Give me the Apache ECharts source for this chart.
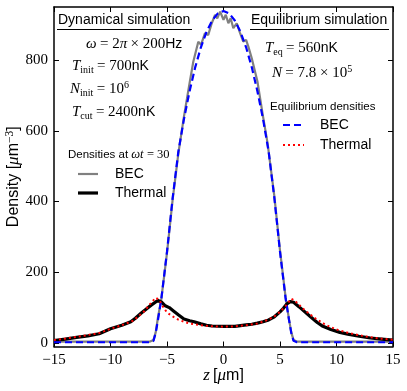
<!DOCTYPE html>
<html><head><meta charset="utf-8">
<script src="https://cdn.jsdelivr.net/npm/echarts@6/dist/echarts.min.js"></script>
<style>html,body{margin:0;padding:0;background:#fff}#c{width:407px;height:391px}</style>
</head><body><div id="c"></div>
<script>
// ---- data ----
const xTicks = [-15, -10, -5, 0, 5, 10, 15];
const yTicks = [0, 200, 400, 600, 800];

// Dynamical simulation, BEC density (grey)
const zDynBEC = [-15, -10, -6.5, -6.2, -6.0, -5.8, -5.5, -5.0, -4.5, -4.0, -3.5, -3.0, -2.67, -2.23, -1.99, -1.64, -1.35, -1.04, -0.75, -0.55, -0.3, 0.0, 0.2, 0.43, 0.63, 0.87, 1.17, 1.46, 1.75, 2.0, 2.2, 2.5, 3.0, 3.5, 3.9, 4.1, 4.5, 5.0, 5.5, 5.8, 6.0, 6.2, 6.5, 10, 15];
const dynBEC  = [4, 4, 4, 8, 30, 72, 125, 255, 405, 535, 640, 735, 796, 852, 843, 876, 871, 904, 928, 918, 937, 914, 928, 904, 918, 890, 904, 877, 852, 857, 838, 805, 740, 640, 565, 515, 415, 262, 128, 66, 30, 8, 4, 4, 4];

// Dynamical simulation, thermal density (black)
const zDynTh = [-15, -14, -13, -12, -11, -10.5, -10, -9, -8.2, -7.8, -7.3, -6.8, -6.4, -6.0, -5.8, -5.5, -5.2, -4.8, -4.4, -4.0, -3.5, -3.0, -2.6, -2.0, -1.5, -1.0, 0, 1.0, 1.5, 2.0, 2.5, 3.0, 3.5, 4.0, 4.5, 5.0, 5.3, 5.6, 5.9, 6.2, 6.7, 7.2, 7.7, 8.3, 8.8, 9.5, 10.3, 11, 12, 13, 14, 15];
const dynTh  = [7, 11, 16, 20, 26, 33, 40, 50, 60, 70, 84, 97, 107, 116, 120, 116, 106, 100, 90, 80, 68, 63, 60, 54, 50, 48, 47, 47, 49, 51, 53, 56, 60, 65, 74, 88, 98, 110, 117, 115, 102, 88, 74, 58, 47, 38, 30, 25, 19, 14, 11, 8];

// Equilibrium simulation, BEC density (blue dashed)
const zEqBEC = [-15, -10, -6.5, -6.2, -6.0, -5.8, -5.5, -5.0, -4.5, -4.0, -3.5, -3.0, -2.5, -2.0, -1.5, -1.0, -0.5, 0, 0.5, 1.0, 1.5, 2.0, 2.5, 3.0, 3.5, 4.0, 4.5, 5.0, 5.5, 5.8, 6.0, 6.2, 6.5, 10, 15];
const eqBEC  = [2, 2, 2, 6, 28, 65, 125, 258, 410, 540, 633, 712, 780, 836, 880, 912, 932, 939, 932, 912, 880, 836, 780, 712, 633, 540, 410, 258, 125, 65, 28, 6, 2, 2, 2];

// Equilibrium simulation, thermal density (red dotted)
const zEqTh = [-15, -13, -11, -10, -9, -8, -7, -6.5, -6.0, -5.7, -5.3, -5.0, -4.5, -4.0, -3.5, -3.0, -2.0, -1.0, 0, 1.0, 2.0, 3.0, 4.0, 4.5, 5.0, 5.5, 6.0, 6.3, 7.0, 8.0, 9.0, 10, 11, 12, 13, 14, 15];
const eqTh  = [8, 17, 28, 40, 50, 63, 90, 110, 128, 122, 100, 86, 75, 66, 60, 55, 50, 47, 46, 47, 50, 55, 66, 75, 88, 105, 125, 120, 98, 72, 52, 38, 29, 22, 16, 12, 9];

function pairs(xs, ys) { return xs.map((x, i) => [x, ys[i]]); }

const SERIF = 'Liberation Serif';
const SANS = 'Liberation Sans';
const rich = {
  m:   { fontFamily: SERIF, fontStyle: 'italic', fontSize: 15, lineHeight: 18, color: '#000' },
  r:   { fontFamily: SERIF, fontSize: 15, lineHeight: 18, color: '#000' },
  s:   { fontFamily: SANS, fontSize: 14, lineHeight: 18, color: '#000' },
  sub: { fontFamily: SERIF, fontSize: 10, lineHeight: 18, verticalAlign: 'bottom', padding: [6, 0, 0, 0], color: '#000' },
  sup: { fontFamily: SERIF, fontSize: 10, lineHeight: 18, verticalAlign: 'top', padding: [0, 0, 6, 0], color: '#000' },
  sm:  { fontFamily: SANS, fontSize: 11.5, lineHeight: 16, color: '#000' },
  smm: { fontFamily: SERIF, fontStyle: 'italic', fontSize: 12.5, lineHeight: 16, color: '#000' },
  smr: { fontFamily: SERIF, fontSize: 12.5, lineHeight: 16, color: '#000' },
  Lm:  { fontFamily: SERIF, fontStyle: 'italic', fontSize: 17, lineHeight: 20, color: '#000' },
  Ls:  { fontFamily: SANS, fontSize: 16, lineHeight: 20, color: '#000' },
  Lsup:{ fontFamily: SERIF, fontSize: 11.5, lineHeight: 20, verticalAlign: 'top', padding: [0, 0, 6, 0], color: '#000' }
};

function txt(x, y, text, align) {
  return { type: 'text', x: x, y: y, z: 100,
    style: { text: text, rich: rich, align: align || 'left', verticalAlign: 'middle' } };
}
function seg(x1, y1, x2, y2, color, w, dash) {
  return { type: 'line', z: 100, shape: { x1, y1, x2, y2 },
    style: { stroke: color, lineWidth: w, lineDash: dash || null } };
}

const chart = echarts.init(document.getElementById('c'), null, { renderer: 'canvas' });

const axisCommon = {
  type: 'value', min: -15, max: 15, interval: 5,
  axisLine: { show: true, onZero: false, lineStyle: { color: '#000', width: 1.5 } },
  axisTick: { show: true, inside: true, length: 5, lineStyle: { color: '#000', width: 1 } },
  splitLine: { show: false }
};

chart.setOption({
  animation: false,
  backgroundColor: '#fff',
  grid: { left: 54, right: 14, top: 7, bottom: 44.5, containLabel: false, outerBoundsMode: 'none' },
  xAxis: [
    Object.assign({}, axisCommon, {
      position: 'bottom',
      axisLabel: { show: true, margin: 6, fontFamily: SERIF, fontSize: 15, color: '#000',
        formatter: v => (v < 0 ? '\u2212' + Math.abs(v) : String(v)) },
      name: '{Lm|z} {Ls|[}{Lm|μ}{Ls|m]}', nameLocation: 'middle', nameGap: 19, nameMoveOverlap: false,
      nameTextStyle: { rich: rich }
    }),
    Object.assign({}, axisCommon, { position: 'top', axisLabel: { show: false } })
  ],
  yAxis: [
    {
      type: 'value', min: -10, max: 950, interval: 200,
      axisLine: { show: true, onZero: false, lineStyle: { color: '#000', width: 1.5 } },
      axisTick: { show: true, inside: true, length: 5, lineStyle: { color: '#000', width: 1 },
        customValues: yTicks },
      axisLabel: { show: true, margin: 6, fontFamily: SERIF, fontSize: 15, color: '#000',
        customValues: yTicks },
      splitLine: { show: false },
      name: '{Ls|Density [}{Lm|μ}{Ls|m}{Lsup|−3}{Ls|]}', nameLocation: 'middle', nameGap: 30, nameRotate: 90,
      nameMoveOverlap: false,
      nameTextStyle: { rich: rich }
    },
    {
      type: 'value', min: -10, max: 950, interval: 200, position: 'right',
      axisLine: { show: true, onZero: false, lineStyle: { color: '#000', width: 1.5 } },
      axisTick: { show: true, inside: true, length: 5, lineStyle: { color: '#000', width: 1 },
        customValues: yTicks },
      axisLabel: { show: false },
      splitLine: { show: false }
    }
  ],
  series: [
    { type: 'line', name: 'BEC dyn', data: pairs(zDynBEC, dynBEC), showSymbol: false, z: 2,
      lineStyle: { color: '#808080', width: 2.2 } },
    { type: 'line', name: 'Thermal dyn', data: pairs(zDynTh, dynTh), showSymbol: false, z: 3,
      lineStyle: { color: '#000', width: 3.2 } },
    { type: 'line', name: 'BEC eq', data: pairs(zEqBEC, eqBEC), showSymbol: false, z: 4,
      lineStyle: { color: '#0000ff', width: 2.2, type: [7, 4] } },
    { type: 'line', name: 'Thermal eq', data: pairs(zEqTh, eqTh), showSymbol: false, z: 5,
      lineStyle: { color: '#ff0000', width: 2, type: [2, 3] } }
  ],
  graphic: [
    txt(58, 20, '{s|Dynamical simulation}'),
    seg(57, 29.5, 192, 29.5, '#000', 1),
    txt(86, 44, '{m|ω} {r|= 2}{m|π} {r|× 200}{s|Hz}'),
    txt(72, 66, '{m|T}{sub|init} {r|= 700}{s|nK}'),
    txt(70, 89, '{m|N}{sub|init} {r|= 10}{sup|6}'),
    txt(72, 112, '{m|T}{sub|cut} {r|= 2400}{s|nK}'),
    txt(68, 155, '{sm|Densities at }{smm|ωt} {smr|= 30}'),
    seg(78, 174, 98, 174, '#808080', 2.2),
    txt(115, 174, '{s|BEC}'),
    seg(78, 193, 98, 193, '#000', 3.2),
    txt(115, 193, '{s|Thermal}'),

    txt(251, 20, '{s|Equilibrium simulation}'),
    seg(250, 29.5, 389, 29.5, '#000', 1),
    txt(265, 48, '{m|T}{sub|eq} {r|= 560}{s|nK}'),
    txt(272, 73, '{m|N} {r|= 7.8 × 10}{sup|5}'),
    txt(270, 107, '{sm|Equilibrium densities}'),
    seg(283, 125, 304, 125, '#0000ff', 2.2, [7, 4]),
    txt(320, 125, '{s|BEC}'),
    seg(283, 145, 304, 145, '#ff0000', 2, [2, 3]),
    txt(320, 145, '{s|Thermal}')
  ]
});
</script></body></html>
